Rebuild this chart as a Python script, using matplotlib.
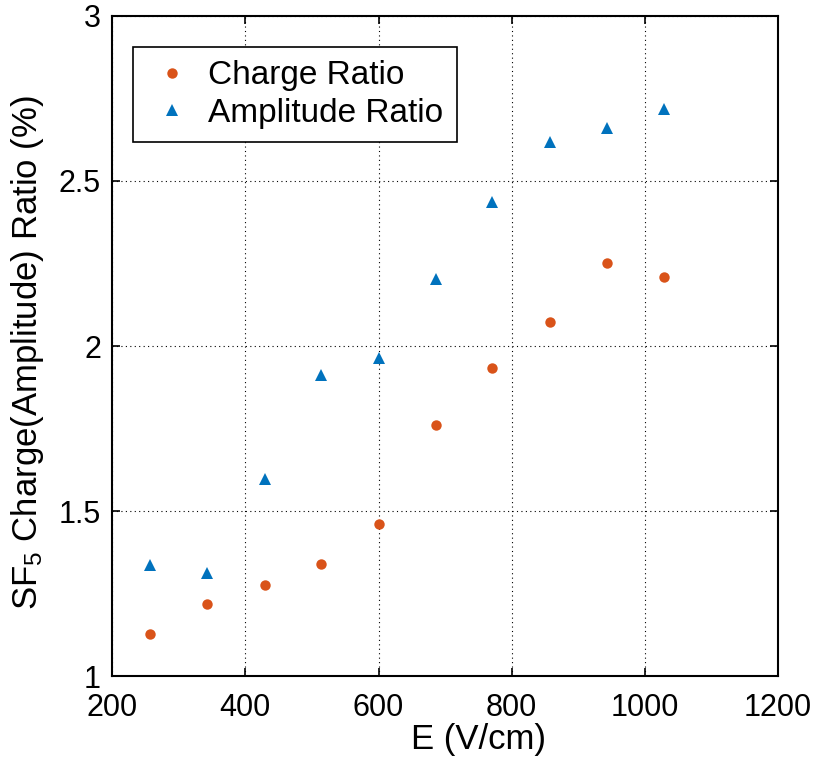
import matplotlib
matplotlib.use("Agg")
import matplotlib.pyplot as plt

plt.rcParams['font.family'] = ['Liberation Sans', 'DejaVu Sans']
plt.rcParams['mathtext.default'] = 'regular'

# campo electrico (V/cm)
E = [257, 343, 429, 514, 600, 686, 771, 857, 943, 1029]
# cocientes en %
charge_ratio = [1.127, 1.218, 1.277, 1.341, 1.462, 1.762, 1.932, 2.073, 2.253, 2.209]
amplitude_ratio = [1.337, 1.311, 1.598, 1.911, 1.965, 2.203, 2.437, 2.619, 2.660, 2.718]

xticks = [200, 400, 600, 800, 1000, 1200]
yticks = [1, 1.5, 2, 2.5, 3]
ytick_labels = ['1', '1.5', '2', '2.5', '3']

fig = plt.figure(figsize=(8.13, 7.58), dpi=100)
ax = fig.add_axes([0.138, 0.108, 0.819, 0.871])

ax.plot(E, charge_ratio, 'o', color='#D95319', markersize=7.5, markeredgewidth=0, label='Charge Ratio')
ax.plot(E, amplitude_ratio, '^', color='#0072BD', markersize=9, markeredgewidth=0, label='Amplitude Ratio')

ax.set_xlim(200, 1200)
ax.set_ylim(1, 3)
ax.set_xticks(xticks)
ax.set_yticks(yticks)
ax.set_yticklabels(ytick_labels)
ax.tick_params(direction='in', length=6, width=1.2, labelsize=22, top=True, right=True)
ax.tick_params(axis='x', pad=12)
ax.tick_params(axis='y', pad=8)
ax.grid(True, linestyle=(0, (1, 3)), color='black', linewidth=0.8)
for s in ax.spines.values():
    s.set_linewidth(1.5)

ax.set_xlabel('E (V/cm)', fontsize=25)
ax.set_ylabel('SF$_5$ Charge(Amplitude) Ratio (%)', fontsize=25)
ax.xaxis.set_label_coords(0.55, -0.071)
ax.yaxis.set_label_coords(-0.10, 0.49)

leg = ax.legend(loc='upper left', bbox_to_anchor=(0.0315, 0.953), borderaxespad=0,
                fontsize=24, fancybox=False, framealpha=1, edgecolor='black',
                handletextpad=0.35, borderpad=0.4, labelspacing=0.2, handlelength=1.5)
leg.get_frame().set_linewidth(1.2)

fig.savefig('out.png', dpi=100)
